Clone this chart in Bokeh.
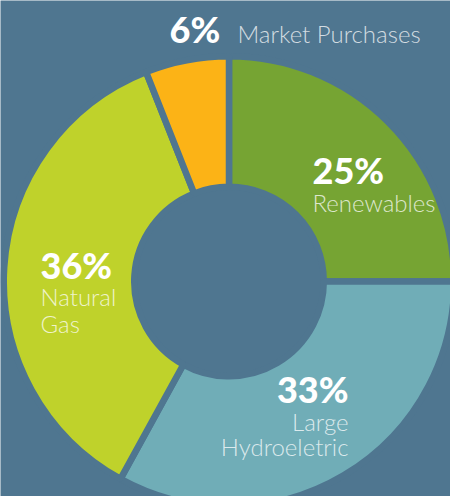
import math
from bokeh.plotting import figure
from bokeh.models import Range1d, ColumnDataSource
from bokeh.core.properties import value
from bokeh.embed import file_html
from bokeh.resources import INLINE

# ---- data ----
categories = ["Renewables", "Large Hydroeletric", "Natural Gas", "Market Purchases"]
shares = [25, 33, 36, 6]
colors = ["#76A433", "#70ADB7", "#BFD22B", "#FCB316"]
pct_labels = [f"{v}%" for v in shares]
name_lines = [["Renewables"], ["Large", "Hydroeletric"], ["Natural", "Gas"], ["Market Purchases"]]

# ---- layout (pixel-based, centre of donut at 228.5, 281 from top-left) ----
W, H = 450, 496
CX, CY = 228.5, 281
BG = "#4F7690"
GAP = 6.5
R_OUT = 222 + GAP / 2
R_IN = 98 - GAP / 2
PCT_FS = 36
NAME_FS = 24
SHIFT = 0.38  # baseline correction (fraction of font size)

total = sum(shares)
starts, ends = [], []
acc = 0.0
for v in shares:
    starts.append(math.pi / 2 - 2 * math.pi * acc / total)
    acc += v
    ends.append(math.pi / 2 - 2 * math.pi * acc / total)

p = figure(width=W, height=H, output_backend="svg", toolbar_location=None,
           x_range=Range1d(-CX, W - CX), y_range=Range1d(-(H - CY), CY),
           x_axis_type=None, y_axis_type=None, min_border=0,
           background_fill_color=BG, border_fill_color=BG, outline_line_color=None)
p.grid.visible = False

src = ColumnDataSource(dict(start=starts, end=ends, color=colors, cat=categories))
p.annular_wedge(x=0, y=0, inner_radius=R_IN, outer_radius=R_OUT,
                start_angle="start", end_angle="end", direction="clock",
                fill_color="color", line_color=BG, line_width=GAP, source=src)


def pct(x, y, s, align):
    p.text(x=[x - CX], y=[CY - y + SHIFT * PCT_FS], text=[s], text_align=align,
           text_baseline="alphabetic", text_color="white", text_font=value("Lato Heavy"),
           text_font_size=f"{PCT_FS}px")


def name(x, y, s, align):
    p.text(x=[x - CX], y=[CY - y + SHIFT * NAME_FS], text=[s], text_align=align,
           text_baseline="alphabetic", text_color="white", text_alpha=0.75,
           text_font=value("Lato Light"), text_font_size=f"{NAME_FS}px")


# label anchors (pixel coords from top-left): (x, pct baseline, align, first name baseline, name line step)
anchors = [
    (312, 183, "left", 211, 26),
    (348, 402, "right", 430, 25),
    (40, 278, "left", 305, 27),
]
for i, (ax, by, align, ny, step) in enumerate(anchors):
    pct(ax, by, pct_labels[i], align)
    for j, line in enumerate(name_lines[i]):
        name(ax, ny + j * step, line, align)

# market purchases label on one line above the donut
pct(169, 42, pct_labels[3], "left")
name(237, 42, name_lines[3][0], "left")

open("out.html", "w").write(file_html(p, INLINE))
